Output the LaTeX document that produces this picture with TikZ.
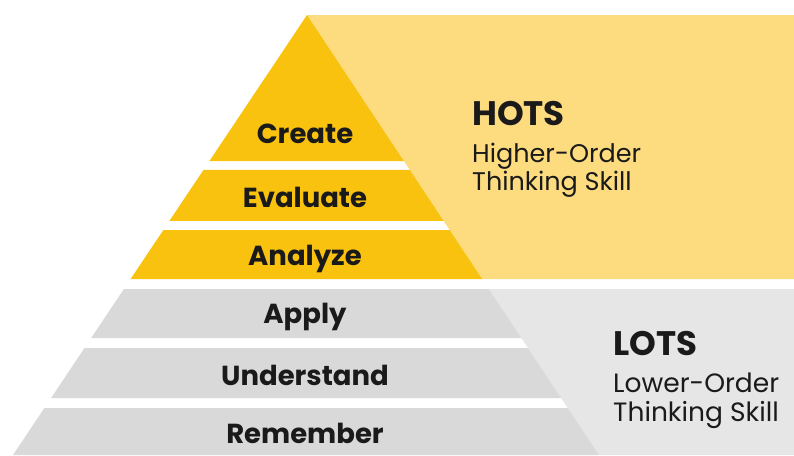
\documentclass[tikz,border=0pt]{standalone}
\usepackage{fontspec}
\setmainfont{Poppins}
\usepackage{tikz}
\usetikzlibrary{calc}
\definecolor{gold}{HTML}{F9C20F}
\definecolor{paleyellow}{HTML}{FDDB7F}
\definecolor{stepgray}{HTML}{D9D9D9}
\definecolor{palegray}{HTML}{E6E6E6}
\definecolor{ink}{HTML}{1A1A1A}
\tikzstyle{level}=[font=\bfseries\fontsize{27.5}{27.5}\selectfont, text=ink, anchor=base, inner sep=0pt]
\tikzstyle{heading}=[font=\bfseries\fontsize{34}{34}\selectfont, text=ink, anchor=base west, inner sep=0pt]
\tikzstyle{subheading}=[font=\fontsize{25.5}{28}\selectfont, text=ink, anchor=base west, align=left, inner sep=0pt]
% one band of the pyramid: name, colour, top, bottom, baseline, text
\newcommand{\layer}[6]{
  \fill[#2] ($(apex)!{(#3-15)/440}!(bl)$) -- ($(apex)!{(#3-15)/440}!(br)$)
    -- ($(apex)!{(#4-15)/440}!(br)$) -- ($(apex)!{(#4-15)/440}!(bl)$) -- cycle;
  \node[level] (#1) at (305,#5) {#6};
}

\begin{document}
\begin{tikzpicture}[x=1pt, y=-1pt]
  \useasboundingbox (0,0) rectangle (794,455);
  \coordinate (apex) at (307,15);
  \coordinate (bl) at (13,455);
  \coordinate (br) at (599,455);

  % backgrounds on the right
  \fill[paleyellow] (apex) -- (794,15) -- (794,279) -- ($(apex)!{264/440}!(br)$) -- cycle;
  \fill[palegray] ($(apex)!{274/440}!(br)$) -- (794,289) -- (794,455) -- (br) -- cycle;

  % the pyramid
  \layer{create}{gold}{15}{161}{143}{Create}
  \layer{evaluate}{gold}{170}{221}{207}{Evaluate}
  \layer{analyze}{gold}{230}{279}{265}{Analyze}
  \layer{apply}{stepgray}{289}{338}{323}{Apply}
  \layer{understand}{stepgray}{348}{398}{385}{Understand}
  \layer{remember}{stepgray}{408}{455}{443}{Remember}

  % side labels
  \node[heading] (hots) at (472,125) {HOTS};
  \node[subheading] (hotsnote) at (472,190) {Higher-Order\\Thinking Skill};
  \node[heading] (lots) at (613,355) {LOTS};
  \node[subheading, font=\fontsize{26.5}{29}\selectfont] (lotsnote) at (613,421) {Lower-Order\\Thinking Skill};
\end{tikzpicture}
\end{document}
